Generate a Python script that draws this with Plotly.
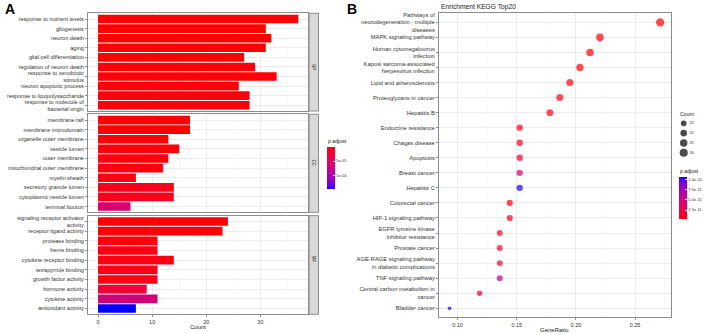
import plotly.graph_objects as go

# ---------------- DATA ----------------
bp_terms = ["response to nutrient levels", "gliogenesis", "neuron death", "aging",
            "glial cell differentiation", "regulation of neuron death",
            "response to xenobiotic<br>stimulus", "neuron apoptotic process",
            "response to lipopolysaccharide", "response to molecule of<br>bacterial origin"]
bp_count = [37, 31, 32, 31, 27, 29, 33, 26, 28, 28]
bp_padj = [2.0e-9, 6.1e-8, 1.4e-7, 3.3e-7, 8.9e-7, 1.2e-6, 2.0e-6, 2.6e-6, 3.1e-6, 3.5e-6]

cc_terms = ["membrane raft", "membrane microdomain", "organelle outer membrane", "vesicle lumen",
            "outer membrane", "mitochondrial outer membrane", "myelin sheath",
            "secretory granule lumen", "cytoplasmic vesicle lumen", "terminal bouton"]
cc_count = [17, 17, 13, 15, 13, 12, 7, 14, 14, 6]
cc_padj = [4.2e-7, 5.5e-7, 2.4e-6, 3.0e-6, 3.8e-6, 4.5e-6, 6.0e-6, 7.2e-6, 8.1e-6, 6.0e-5]

mf_terms = ["signaling receptor activator<br>activity", "receptor ligand activity",
            "protease binding", "heme binding", "cytokine receptor binding",
            "tetrapyrrole binding", "growth factor activity", "hormone activity",
            "cytokine activity", "antioxidant activity"]
mf_count = [24, 23, 11, 11, 14, 11, 11, 9, 11, 7]
mf_padj = [1.0e-6, 1.8e-6, 4.4e-6, 5.1e-6, 5.6e-6, 6.3e-6, 7.0e-6, 2.1e-5, 6.3e-5, 1.48e-4]

kegg_terms = ["Pathways of<br>neurodegeneration - multiple<br>diseases", "MAPK signaling pathway",
              "Human cytomegalovirus<br>infection", "Kaposi sarcoma-associated<br>herpesvirus infection",
              "Lipid and atherosclerosis", "Proteoglycans in cancer", "Hepatitis B",
              "Endocrine resistance", "Chagas disease", "Apoptosis", "Breast cancer", "Hepatitis C",
              "Colorectal cancer", "HIF-1 signaling pathway",
              "EGFR tyrosine kinase<br>inhibitor resistance", "Prostate cancer",
              "AGE-RAGE signaling pathway<br>in diabetic complications", "TNF signaling pathway",
              "Central carbon metabolism in<br>cancer", "Bladder cancer"]
kegg_ratio = [0.2712, 0.2203, 0.2119, 0.2034, 0.1949, 0.1864, 0.1780, 0.1525, 0.1525, 0.1525,
              0.1525, 0.1525, 0.1441, 0.1441, 0.1356, 0.1356, 0.1356, 0.1356, 0.1186, 0.0932]
kegg_count = [32, 26, 25, 24, 23, 22, 21, 18, 18, 18, 18, 18, 17, 17, 16, 16, 16, 16, 14, 11]
kegg_padj = [2.0e-12, 3.1e-12, 4.0e-12, 5.2e-12, 4.6e-12, 6.8e-12, 7.5e-12, 9.0e-12, 9.6e-12, 1.9e-11,
             5.0e-11, 1.04e-10, 8.2e-12, 8.8e-12, 1.0e-11, 1.1e-11, 1.15e-11, 6.4e-11, 1.2e-11, 1.06e-10]

size_legend_vals = [15, 20, 25, 30]
left_cb_ticks = [5e-5, 1e-4]
left_cb_text = ["5e-05", "1e-04"]
right_cb_ticks = [2.5e-11, 5.0e-11, 7.5e-11, 1.0e-10]
right_cb_text = ["2.5e-11", "5.0e-11", "7.5e-11", "1.0e-10"]

# ---------------- STYLE HELPERS ----------------
W, H = 708, 334
FONT = "Liberation Sans, Arial, sans-serif"
GRID = "#ebebeb"
BORDER = "#8c8c8c"
TXT = "#333333"


def px_x(x):
    return x / W


def px_y(y):
    return 1 - y / H


def _lin(c):
    c = c / 255.0
    return c / 12.92 if c <= 0.04045 else ((c + 0.055) / 1.055) ** 2.4


def _delin(c):
    c = 12.92 * c if c <= 0.0031308 else 1.055 * c ** (1 / 2.4) - 0.055
    return max(0, min(255, round(c * 255)))


def _f(t):
    d = 6 / 29
    return t ** (1 / 3) if t > d ** 3 else t / (3 * d * d) + 4 / 29


def _finv(t):
    d = 6 / 29
    return t ** 3 if t > d else 3 * d * d * (t - 4 / 29)


WN = (0.95047, 1.0, 1.08883)


def rgb2lab(rgb):
    r, g, b = (_lin(v) for v in rgb)
    X = 0.4124 * r + 0.3576 * g + 0.1805 * b
    Y = 0.2126 * r + 0.7152 * g + 0.0722 * b
    Z = 0.0193 * r + 0.1192 * g + 0.9505 * b
    fx, fy, fz = _f(X / WN[0]), _f(Y / WN[1]), _f(Z / WN[2])
    return 116 * fy - 16, 500 * (fx - fy), 200 * (fy - fz)


def lab2rgb(lab):
    L, a, b = lab
    fy = (L + 16) / 116
    fx = fy + a / 500
    fz = fy - b / 200
    X, Y, Z = WN[0] * _finv(fx), WN[1] * _finv(fy), WN[2] * _finv(fz)
    r = 3.2406 * X - 1.5372 * Y - 0.4986 * Z
    g = -0.9689 * X + 1.8758 * Y + 0.0415 * Z
    bb = 0.0557 * X - 0.2040 * Y + 1.0570 * Z
    return "rgb(%d,%d,%d)" % (_delin(max(r, 0)), _delin(max(g, 0)), _delin(max(bb, 0)))


def lab_scale(c0, c1, n=21):
    l0, l1 = rgb2lab(c0), rgb2lab(c1)
    out = []
    for i in range(n):
        t = i / (n - 1)
        out.append([t, lab2rgb(tuple(l0[k] + (l1[k] - l0[k]) * t for k in range(3)))])
    return out


RED_BLUE = lab_scale((255, 0, 0), (0, 0, 255))
BLUE_RED = lab_scale((0, 0, 255), (255, 0, 0))

# ---------------- FIGURE ----------------
fig = go.Figure()

left_all = bp_padj + cc_padj + mf_padj
l_cmin, l_cmax = -max(left_all), -min(left_all)

panels = [(bp_terms, bp_count, bp_padj, 13.3, 111.0, "BP"),
          (cc_terms, cc_count, cc_padj, 114.3, 212.3, "CC"),
          (mf_terms, mf_count, mf_padj, 215.7, 314.3, "MF")]
LX0, LX1 = 88.0, 308.3

for i, (terms, counts, padj, y0, y1, strip) in enumerate(panels):
    n = i + 1
    xa = "x" if n == 1 else "x%d" % n
    ya = "y" if n == 1 else "y%d" % n
    show = (n == 3)
    fig.add_trace(go.Bar(
        x=counts, y=terms, orientation="h", width=0.9, xaxis=xa, yaxis=ya,
        marker=dict(color=[-p for p in padj], colorscale=BLUE_RED, cmin=l_cmin, cmax=l_cmax,
                    line=dict(width=0), showscale=show,
                    colorbar=dict(x=px_x(326.7), xanchor="left", xpad=0, ypad=0,
                                  y=px_y((146.7 + 189.0) / 2), yanchor="middle",
                                  len=42.3, lenmode="pixels", thickness=8, thicknessmode="pixels",
                                  outlinewidth=0, tickvals=[-v for v in left_cb_ticks],
                                  ticktext=left_cb_text, ticks="inside", ticklen=2,
                                  tickcolor="white", tickfont=dict(size=4, color=TXT, family=FONT))),
        showlegend=False, hoverinfo="skip"))
    axkey = "xaxis" if n == 1 else "xaxis%d" % n
    aykey = "yaxis" if n == 1 else "yaxis%d" % n
    fig.layout[axkey] = dict(
        domain=[px_x(LX0), px_x(LX1)], anchor=ya, range=[-1.85, 38.85], tickvals=[0, 10, 20, 30],
        showticklabels=show, ticks="outside" if show else "", ticklen=2, tickcolor=BORDER,
        tickfont=dict(size=5.5, color=TXT, family=FONT), showgrid=True, gridcolor=GRID, gridwidth=1,
        minor=dict(tickvals=[5, 15, 25, 35], showgrid=True, gridcolor="#f3f3f3", gridwidth=0.5),
        zeroline=False, showline=True, mirror=True, linecolor=BORDER, linewidth=1, fixedrange=True)
    fig.layout[aykey] = dict(
        domain=[px_y(y1), px_y(y0)], anchor=xa, type="category", categoryorder="array",
        categoryarray=terms, range=[9.6, -0.6], ticks="outside", ticklen=2, tickcolor=BORDER,
        tickfont=dict(size=5.6, color=TXT, family=FONT), showgrid=True, gridcolor=GRID,
        zeroline=False, showline=True, mirror=True, linecolor=BORDER, linewidth=1, fixedrange=True)
    # facet strip
    fig.add_shape(type="rect", xref="paper", yref="paper", x0=px_x(309.0), x1=px_x(318.5),
                  y0=px_y(y1), y1=px_y(y0), fillcolor="#d9d9d9", line=dict(color=BORDER, width=1),
                  layer="above")
    fig.add_annotation(xref="paper", yref="paper", x=px_x(313.8), y=px_y((y0 + y1) / 2), text=strip,
                       textangle=90, showarrow=False, font=dict(size=4.5, color="#1a1a1a", family=FONT))


def kegg_size(c):
    lo, hi = min(kegg_count), max(kegg_count)
    return 3.7 + 4.6 * ((c - lo) / (hi - lo)) ** 0.5


r_cmin, r_cmax = min(kegg_padj), max(kegg_padj)
RX0, RX1, RY0, RY1 = 439.0, 670.7, 13.3, 317.3
fig.add_trace(go.Scatter(
    x=kegg_ratio, y=kegg_terms, mode="markers", xaxis="x4", yaxis="y4",
    marker=dict(size=[kegg_size(c) for c in kegg_count], color=kegg_padj, colorscale=RED_BLUE,
                cmin=r_cmin, cmax=r_cmax, line=dict(width=0), showscale=True,
                colorbar=dict(x=px_x(678.7), xanchor="left", xpad=0, ypad=0,
                              y=px_y((177.3 + 219.3) / 2), yanchor="middle", len=42, lenmode="pixels",
                              thickness=8, thicknessmode="pixels", outlinewidth=0,
                              tickvals=right_cb_ticks, ticktext=right_cb_text, ticks="inside",
                              ticklen=2, tickcolor="white",
                              tickfont=dict(size=4, color=TXT, family=FONT))),
    showlegend=False, hoverinfo="skip"))

fig.layout["xaxis4"] = dict(
    domain=[px_x(RX0), px_x(RX1)], anchor="y4", range=[0.0843, 0.2801],
    tickvals=[0.10, 0.15, 0.20, 0.25], ticktext=["0.10", "0.15", "0.20", "0.25"],
    ticks="outside", ticklen=2, tickcolor=BORDER, tickfont=dict(size=5.5, color=TXT, family=FONT),
    showgrid=True, gridcolor=GRID, gridwidth=1,
    minor=dict(tickvals=[0.125, 0.175, 0.225, 0.275], showgrid=True, gridcolor="#f3f3f3", gridwidth=0.5),
    zeroline=False, showline=True, mirror=True, linecolor=BORDER, linewidth=1, fixedrange=True)
fig.layout["yaxis4"] = dict(
    domain=[px_y(RY1), px_y(RY0)], anchor="x4", type="category", categoryorder="array",
    categoryarray=kegg_terms, range=[19.6, -0.6], ticks="outside", ticklen=2, tickcolor=BORDER,
    tickfont=dict(size=5.8, color=TXT, family=FONT), showgrid=True, gridcolor=GRID,
    zeroline=False, showline=True, mirror=True, linecolor=BORDER, linewidth=1, fixedrange=True)

# size legend (Count)
fig.add_trace(go.Scatter(
    x=[0.19] * len(size_legend_vals), y=list(range(len(size_legend_vals))), mode="markers",
    xaxis="x5", yaxis="y5", marker=dict(size=[kegg_size(v) for v in size_legend_vals], color="black",
                                         line=dict(width=0)),
    showlegend=False, hoverinfo="skip"))
fig.add_trace(go.Scatter(
    x=[0.38] * len(size_legend_vals), y=list(range(len(size_legend_vals))), mode="text",
    text=[str(v) for v in size_legend_vals], textposition="middle right",
    textfont=dict(size=4, color=TXT, family=FONT), xaxis="x5", yaxis="y5",
    showlegend=False, hoverinfo="skip"))
fig.layout["xaxis5"] = dict(domain=[px_x(678), px_x(708)], anchor="y5", range=[0, 1], visible=False,
                            fixedrange=True)
fig.layout["yaxis5"] = dict(domain=[px_y(157.6), px_y(118.4)], anchor="x5", range=[3.5, -0.5],
                            visible=False, fixedrange=True)

# texts
ann = [
    dict(x=px_x(3), y=px_y(9), text="<b>A</b>", xanchor="left", font=dict(size=14, color="black")),
    dict(x=px_x(345), y=px_y(9), text="<b>B</b>", xanchor="left", font=dict(size=14, color="black")),
    dict(x=px_x(RX0), y=px_y(7), text="Enrichment KEGG Top20", xanchor="left",
         font=dict(size=6.7, color="#1a1a1a")),
    dict(x=px_x((LX0 + LX1) / 2), y=px_y(327.3), text="Count", font=dict(size=6, color="#1a1a1a")),
    dict(x=px_x((RX0 + RX1) / 2), y=px_y(330), text="GeneRatio", font=dict(size=6, color="#1a1a1a")),
    dict(x=px_x(326), y=px_y(141.5), text="p.adjust", xanchor="left", font=dict(size=5.2, color="#1a1a1a")),
    dict(x=px_x(678), y=px_y(171), text="p.adjust", xanchor="left", font=dict(size=5.2, color="#1a1a1a")),
    dict(x=px_x(678), y=px_y(114), text="Count", xanchor="left", font=dict(size=5.2, color="#1a1a1a")),
]
for a in ann:
    a.setdefault("xanchor", "center")
    a["font"]["family"] = FONT
    fig.add_annotation(xref="paper", yref="paper", yanchor="middle", showarrow=False, **a)

fig.update_layout(
    width=W, height=H, margin=dict(l=0, r=0, t=0, b=0, autoexpand=False),
    paper_bgcolor="white", plot_bgcolor="white", font=dict(family=FONT, color=TXT),
    bargap=0.1, showlegend=False)

fig.write_html("out.html", config={"displayModeBar": False, "staticPlot": True},
               post_script="document.body.style.margin='0';document.body.style.padding='0';")
